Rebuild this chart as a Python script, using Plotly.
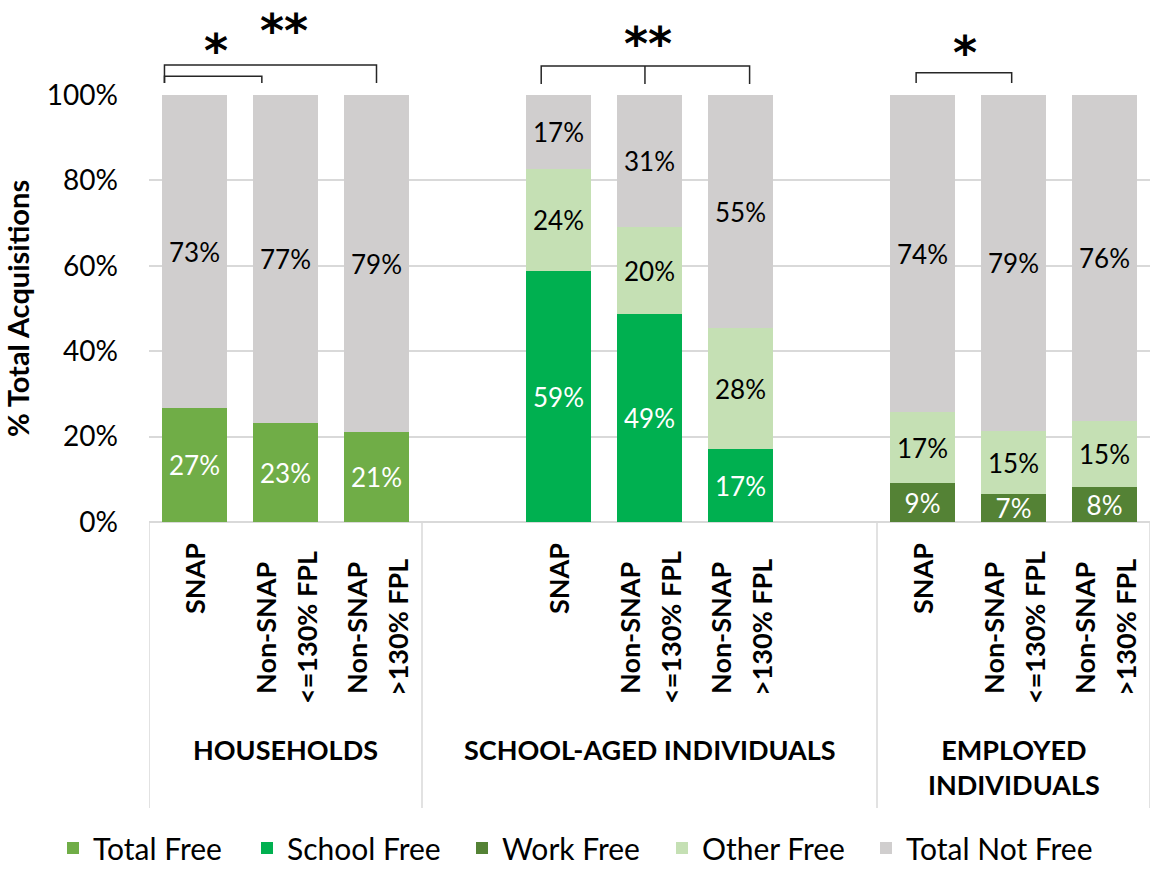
import plotly.graph_objects as go

# ---- data -----------------------------------------------------------------
groups = ["HOUSEHOLDS", "SCHOOL-AGED INDIVIDUALS", "EMPLOYED<br>INDIVIDUALS"]
subgroups = [["SNAP"], ["Non-SNAP", "&lt;=130% FPL"], ["Non-SNAP", "&gt;130% FPL"]]

# percent of total acquisitions, one value per subgroup
hh_total_free = [26.6, 23.1, 21.1]
hh_not_free = [73.4, 76.9, 78.9]

sa_school_free = [58.8, 48.7, 17.1]
sa_other_free = [23.9, 20.4, 28.3]
sa_not_free = [17.3, 30.9, 54.6]

emp_work_free = [9.2, 6.6, 8.2]
emp_other_free = [16.6, 14.6, 15.4]
emp_not_free = [74.2, 78.8, 76.4]

colors = {
    "Total Free": "#70AD47",
    "School Free": "#00B050",
    "Work Free": "#548235",
    "Other Free": "#C5E0B4",
    "Total Not Free": "#D0CECE",
}
# horizontal room given to each legend entry (px)
legend_room = {
    "Total Free": 149,
    "School Free": 170,
    "Work Free": 155,
    "Other Free": 159,
    "Total Not Free": 200,
}

FONT = "Lato"
LABEL_SIZE = 26
GRID = "#D9D9D9"


def slots(g):
    """x positions of the three bars of group g (one empty slot between groups)."""
    return [4 * g + b for b in range(3)]


series = [
    ("Total Free", slots(0), hh_total_free, "white"),
    ("School Free", slots(1), sa_school_free, "white"),
    ("Work Free", slots(2), emp_work_free, "white"),
    ("Other Free", slots(1) + slots(2), sa_other_free + emp_other_free, "black"),
    ("Total Not Free", slots(0) + slots(1) + slots(2),
     hh_not_free + sa_not_free + emp_not_free, "black"),
]

fig = go.Figure()
for name, xs, ys, tcolor in series:
    fig.add_trace(go.Bar(
        name=name, x=xs, y=ys, width=0.725,
        marker=dict(color=colors[name], line=dict(width=0)),
        texttemplate="%{y:.0f}%", textposition="inside",
        insidetextanchor="middle", textangle=0,
        textfont=dict(family=FONT, size=LABEL_SIZE, color=tcolor),
        legendwidth=legend_room[name],
        hoverinfo="skip",
    ))

# ---- plot-area geometry (paper units) --------------------------------------
PLOT_W = 1001.0
PLOT_H = 427.0


def py(px_below_axis):
    """paper y for a pixel offset measured downward from the 0% line."""
    return -px_below_axis / PLOT_H


shapes = []
annotations = []

# group separators below the category axis
bounds = [-0.5, 2.5, 7.5, 10.5]
for b in bounds:
    shapes.append(dict(type="line", xref="x", yref="paper", x0=b, x1=b,
                       y0=0, y1=py(286), line=dict(color=GRID, width=1.5)))

# category labels (rotated) and group labels
CAT_SIZE = 27
for g, gname in enumerate(groups):
    for b, xs in enumerate(slots(g)):
        lines = subgroups[b]
        if len(lines) == 1:
            annotations.append(dict(
                x=xs, y=py(19), xref="x", yref="paper", text="<b>%s</b>" % lines[0],
                textangle=-90, showarrow=False, xanchor="center", yanchor="top",
                font=dict(family=FONT, size=CAT_SIZE, color="black")))
        else:
            for k, line in enumerate(lines):
                annotations.append(dict(
                    x=xs, y=py(106), xref="x", yref="paper", text="<b>%s</b>" % line,
                    textangle=-90, showarrow=False, xanchor="center", yanchor="middle",
                    xshift=(k - 0.5) * 41,
                    font=dict(family=FONT, size=CAT_SIZE, color="black")))
    center = (bounds[g] + bounds[g + 1]) / 2
    annotations.append(dict(
        x=center, y=py(209), xref="x", yref="paper", text="<b>%s</b>" % gname,
        showarrow=False, xanchor="center", yanchor="top",
        font=dict(family=FONT, size=CAT_SIZE, color="black")))

# significance brackets
BR = "#262626"


def bracket(x0, x1, ytop, ybot, mids=()):
    path = "M %f,%f L %f,%f L %f,%f L %f,%f" % (x0, ybot, x0, ytop, x1, ytop, x1, ybot)
    shapes.append(dict(type="path", xref="x", yref="paper", path=path,
                       line=dict(color=BR, width=1.5)))
    for m in mids:
        shapes.append(dict(type="line", xref="x", yref="paper", x0=m, x1=m,
                           y0=ytop, y1=ybot, line=dict(color=BR, width=1.5)))


bracket(-0.33, 2.0, 1.070, 1.028)
bracket(-0.33, 0.74, 1.044, 1.028)
bracket(3.81, 6.10, 1.068, 1.026, mids=(4.95,))
bracket(7.93, 8.98, 1.052, 1.028)

stars = [(0.24, 1.103, "*"), (0.98, 1.150, "**"), (4.98, 1.119, "**"), (8.47, 1.098, "*")]
for x, y, s in stars:
    annotations.append(dict(x=x, y=y, xref="x", yref="paper", text="<b>%s</b>" % s,
                            showarrow=False, xanchor="center", yanchor="middle",
                            font=dict(family="DejaVu Sans", size=46, color="black")))

fig.update_layout(
    width=1167, height=888,
    margin=dict(l=149, r=17, t=95, b=366, pad=0),
    paper_bgcolor="white", plot_bgcolor="white",
    barmode="stack", bargap=0,
    font=dict(family=FONT, size=LABEL_SIZE, color="black"),
    uniformtext=dict(minsize=LABEL_SIZE, mode="show"),
    shapes=shapes, annotations=annotations,
    legend=dict(orientation="h", xref="paper", x=-96 / PLOT_W, xanchor="left",
                yref="paper", y=py(326), yanchor="middle",
                font=dict(family=FONT, size=30, color="black"),
                traceorder="normal", itemclick=False),
    xaxis=dict(range=[-0.5, 10.5], showticklabels=False, showgrid=False,
               zeroline=False, showline=False, fixedrange=True),
    yaxis=dict(range=[0, 100], dtick=20, ticksuffix="%", showgrid=True,
               gridcolor=GRID, gridwidth=1.5, zeroline=True, zerolinecolor=GRID,
               zerolinewidth=1.5, showline=False, ticks="", ticklabelstandoff=30,
               tickfont=dict(family=FONT, size=28, color="black"),
               title=dict(text="<b>% Total Acquisitions</b>", standoff=12,
                          font=dict(family=FONT, size=29, color="black"))),
)

fig.write_html("out.html")
